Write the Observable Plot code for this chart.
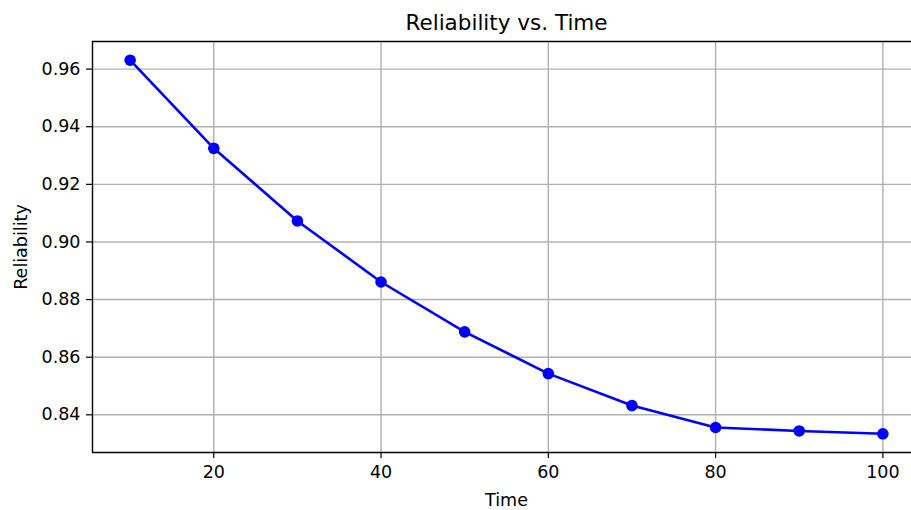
<!DOCTYPE html>
<html>
<head>
<meta charset="utf-8">
<script src="https://cdn.jsdelivr.net/npm/d3@7"></script>
<script src="https://cdn.jsdelivr.net/npm/@observablehq/plot@0.6"></script>
<style>
  html, body { margin: 0; padding: 0; background: #fff; overflow: hidden; }
  #chart svg { display: block; max-width: none; }
</style>
</head>
<body>
<div id="chart"></div>
<script>
const time = [10, 20, 30, 40, 50, 60, 70, 80, 90, 100];
const reliability = [0.9631, 0.9325, 0.9073, 0.8861, 0.8688, 0.8543, 0.8432, 0.8356, 0.8344, 0.8334];
const xTicks = [20, 40, 60, 80, 100];
const yTicks = [0.84, 0.86, 0.88, 0.90, 0.92, 0.94, 0.96];
const titleText = "Reliability vs. Time";
const xLabel = "Time";
const yLabel = "Reliability";

const data = time.map((t, i) => ({time: t, reliability: reliability[i]}));

// matplotlib-style 5% autoscale margins
const pad = (lo, hi) => { const m = (hi - lo) * 0.05; return [lo - m, hi + m]; };
const xDomain = pad(d3.min(time), d3.max(time));
const yDomain = pad(d3.min(reliability), d3.max(reliability));

const FONT = "DejaVu Sans, sans-serif";
const tickFont = 17.5;

const chart = Plot.plot({
  width: 911,
  height: 510,
  marginLeft: 92,
  marginRight: -9,
  marginTop: 41,
  marginBottom: 58,
  style: {fontFamily: FONT, color: "#000", background: "#fff", overflow: "visible"},
  x: {domain: xDomain},
  y: {domain: yDomain},
  marks: [
    Plot.gridX(xTicks, {stroke: "#b0b0b0", strokeOpacity: 1, strokeWidth: 1.4}),
    Plot.gridY(yTicks, {stroke: "#b0b0b0", strokeOpacity: 1, strokeWidth: 1.4}),
    Plot.line(data, {x: "time", y: "reliability", stroke: "#0000ff", strokeWidth: 2.6}),
    Plot.dot(data, {x: "time", y: "reliability", fill: "#0000ff", r: 5.8}),
    // spines (left, bottom, top; the right one falls outside the picture)
    Plot.ruleX([xDomain[0]], {stroke: "#000", strokeWidth: 1.4}),
    Plot.ruleY(yDomain, {stroke: "#000", strokeWidth: 1.4}),
    Plot.axisX(xTicks, {tickSize: 6, tickPadding: 7, fontSize: tickFont, label: null, stroke: "#000", strokeWidth: 1.2}),
    Plot.axisY(yTicks, {tickSize: 6, tickPadding: 6, fontSize: tickFont, label: null, tickFormat: d3.format(".2f"), stroke: "#000", strokeWidth: 1.2}),
    Plot.text([titleText], {frameAnchor: "top", lineAnchor: "middle", text: d => d, dy: -18.6, fontSize: 21.5, fill: "#000", textAnchor: "middle"}),
    Plot.text([xLabel], {frameAnchor: "bottom", lineAnchor: "middle", text: d => d, dy: 47.5, fontSize: 17.5, fill: "#000", textAnchor: "middle"}),
    Plot.text([yLabel], {frameAnchor: "left", lineAnchor: "middle", text: d => d, dx: -71.5, rotate: -90, fontSize: 17.5, fill: "#000", textAnchor: "middle"})
  ]
});

document.getElementById("chart").appendChild(chart);
</script>
</body>
</html>
